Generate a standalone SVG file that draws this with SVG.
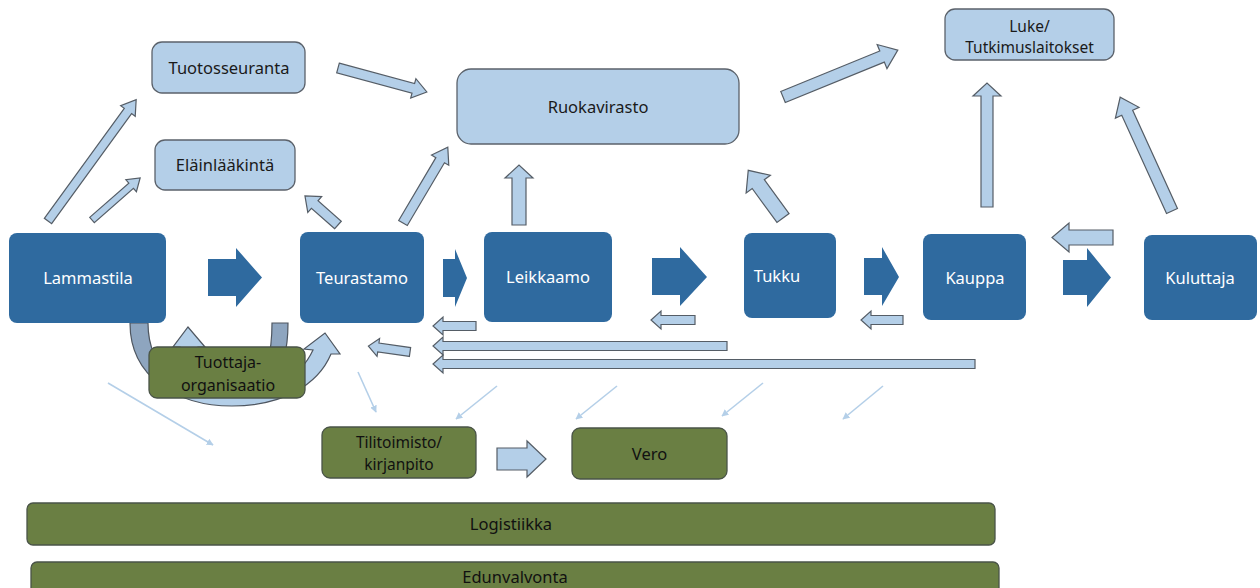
<svg xmlns="http://www.w3.org/2000/svg" width="1260" height="588" viewBox="0 0 1260 588">
<style>
text{font-family:"Noto Sans","DejaVu Sans",sans-serif;font-size:16.5px;text-anchor:middle}
.dk rect{fill:#2f6a9f}
.dk text{fill:#ffffff}
.lt rect{fill:#b4cfe8;stroke:#5b626b;stroke-width:1.3}
.lt text{fill:#1a1a1a}
.gr rect{fill:#6a7f43;stroke:#4a5448;stroke-width:1.3}
.gr text{fill:#111111}
.two{font-size:15.5px}
.ba{fill:#b4cfe8;stroke:#555d66;stroke-width:1.2;stroke-linejoin:miter}
.fa{fill:#2f6a9f}
.th{stroke:#b4cfe8;stroke-width:1.6;fill:none;marker-end:url(#mh)}
</style>
<defs>
<marker id="mh" viewBox="0 0 10 10" refX="9" refY="5" markerWidth="7" markerHeight="7" markerUnits="userSpaceOnUse" orient="auto">
<path d="M0,0 L10,5 L0,10 Z" fill="#b4cfe8"/>
</marker>
<linearGradient id="gA" gradientUnits="userSpaceOnUse" x1="130" y1="0" x2="200" y2="0">
<stop offset="0" stop-color="#8ea5bf"/><stop offset="0.38" stop-color="#8ea5bf"/><stop offset="0.46" stop-color="#b4cfe8"/><stop offset="1" stop-color="#b4cfe8"/>
</linearGradient>
<linearGradient id="gB" gradientUnits="userSpaceOnUse" x1="290" y1="0" x2="230" y2="0">
<stop offset="0" stop-color="#8ea5bf"/><stop offset="0.45" stop-color="#8ea5bf"/><stop offset="0.55" stop-color="#b4cfe8"/><stop offset="1" stop-color="#b4cfe8"/>
</linearGradient>
</defs>

<g id="connectors">
<!-- forward flow arrows -->
<path class="fa" d="M208,259 H236 V248 L262,277.5 L236,307 V296 H208 Z"/>
<path class="fa" d="M443,259 H455 V249 L467,278 L455,307 V297 H443 Z"/>
<path class="fa" d="M652,258 H680 V247 L707,277 L680,306 V295 H652 Z"/>
<path class="fa" d="M864,258 H882 V247 L899,277 L882,306 V295 H864 Z"/>
<path class="fa" d="M1063,260 H1087 V248 L1111,277.5 L1087,307 V295 H1063 Z"/>
<!-- upward / diagonal block arrows -->
<path class="ba" d="M0,-4.5 H136 V-9 L150,0 L136,9 V4.5 H0 Z" transform="translate(48,221) rotate(-54)"/>
<path class="ba" d="M0,-3.5 H52 V-8 L64,0 L52,8 V3.5 H0 Z" transform="translate(92,220) rotate(-41.2)"/>
<path class="ba" d="M0,-5 H31 V-10.5 L44,0 L31,10.5 V5 H0 Z" transform="translate(338,225) rotate(-138.7)"/>
<path class="ba" d="M0,-5 H73 V-10 L88,0 L73,10 V5 H0 Z" transform="translate(403,223) rotate(-59.4)"/>
<path class="ba" d="M0,-5 H78 V-10 L92,0 L78,10 V5 H0 Z" transform="translate(338,68) rotate(15.1)"/>
<path class="ba" d="M512,225 V178 H505 L519,165 L533,178 H526 V225 Z"/>
<path class="ba" d="M0,-7.5 H42 V-15 L59,0 L42,15 V7.5 H0 Z" transform="translate(783,218) rotate(-126.1)"/>
<path class="ba" d="M0,-6 H107 V-13 L124,0 L107,13 V6 H0 Z" transform="translate(783,97) rotate(-22.2)"/>
<path class="ba" d="M981,207 V96 H973 L987,83 L1001,96 H993 V207 Z"/>
<path class="ba" d="M0,-6 H108 V-13 L125,0 L108,13 V6 H0 Z" transform="translate(1172,211) rotate(-114.5)"/>
<path class="ba" d="M1113,230 H1069 V223 L1052,237.5 L1069,252 V245 H1113 Z"/>
<!-- backward arrows -->
<path class="ba" d="M476,321.5 H443 V317 L433,326 L443,335 V330.5 H476 Z"/>
<path class="ba" d="M695,315.5 H661 V311 L651,320 L661,329 V324.5 H695 Z"/>
<path class="ba" d="M903,315.5 H871 V311 L861,320 L871,329 V324.5 H903 Z"/>
<path class="ba" d="M727,341.5 H443 V337 L433,346 L443,355 V350.5 H727 Z"/>
<path class="ba" d="M975,359.5 H443 V355 L433,364 L443,373 V368.5 H975 Z"/>
<path class="ba" d="M0,-4.5 H32 V-9 L42,0 L32,9 V4.5 H0 Z" transform="translate(410,352) rotate(188.1)"/>
<!-- Tilitoimisto to Vero -->
<path class="ba" d="M497,448 H527 V441 L546,459 L527,477 V470 H497 Z"/>
<!-- curved arrows around Tuottaja-organisaatio -->
<path fill="url(#gB)" stroke="#4e5660" stroke-width="1.2" d="M272,323 L288,323 C288,378 265,402 234,402 C200,402 180,378 180,347 L173,347 L188,327 L205,347 L198,347 C198,372 214,391 234,391 C258,391 272,370 272,323 Z"/>
<path fill="url(#gA)" stroke="#4e5660" stroke-width="1.2" d="M148,323 L130,323 C130,378 178,406 232,406 C282,406 318,385 331,354 L340,354 L325,333 L304,349 L313,350 C300,378 270,395 232,395 C185,395 148,372 148,323 Z"/>
<!-- thin arrows to accounting / tax -->
<line class="th" x1="108" y1="383" x2="213" y2="445"/>
<line class="th" x1="358" y1="372" x2="376" y2="412"/>
<line class="th" x1="497" y1="386" x2="456" y2="419"/>
<line class="th" x1="617" y1="386" x2="576" y2="419"/>
<line class="th" x1="763" y1="383" x2="722" y2="416"/>
<line class="th" x1="883" y1="386" x2="843" y2="419"/>
</g>

<g id="tuotosseuranta" class="lt"><rect x="152" y="42" width="153" height="51" rx="10"/><text x="229" y="73.5">Tuotosseuranta</text></g>
<g id="elainlaakinta" class="lt"><rect x="155" y="140" width="140" height="50" rx="10"/><text x="225" y="170.5">Eläinlääkintä</text></g>
<g id="ruokavirasto" class="lt"><rect x="457" y="69" width="282" height="75" rx="14"/><text x="598" y="113">Ruokavirasto</text></g>
<g id="luke" class="lt"><rect x="945" y="9" width="169" height="51" rx="10"/><text class="two" x="1029.5" y="31.5">Luke/</text><text class="two" x="1029.5" y="53">Tutkimuslaitokset</text></g>

<g id="lammastila" class="dk"><rect x="9" y="233" width="157" height="90" rx="8"/><text x="88" y="283.5">Lammastila</text></g>
<g id="teurastamo" class="dk"><rect x="300" y="232" width="124" height="91" rx="8"/><text x="362" y="283.5">Teurastamo</text></g>
<g id="leikkaamo" class="dk"><rect x="484" y="232" width="128" height="90" rx="8"/><text x="548" y="282.5">Leikkaamo</text></g>
<g id="tukku" class="dk"><rect x="744" y="233" width="92" height="85" rx="8"/><text x="777" y="281.5">Tukku</text></g>
<g id="kauppa" class="dk"><rect x="923" y="234" width="103" height="86" rx="8"/><text x="975" y="283.5">Kauppa</text></g>
<g id="kuluttaja" class="dk"><rect x="1144" y="235" width="113" height="85" rx="8"/><text x="1200" y="283.5">Kuluttaja</text></g>

<g id="tuottajaorganisaatio" class="gr"><rect x="149" y="347" width="156" height="51" rx="8"/><text x="228" y="368" style="font-size:16px">Tuottaja-</text><text x="228" y="390.5" style="font-size:16px">organisaatio</text></g>
<g id="tilitoimisto" class="gr"><rect x="322" y="427" width="154" height="51" rx="8"/><text class="two" x="399" y="448">Tilitoimisto/</text><text class="two" x="399" y="469.5">kirjanpito</text></g>
<g id="vero" class="gr"><rect x="572" y="428" width="155" height="51" rx="8"/><text x="649.5" y="459.5">Vero</text></g>
<g id="logistiikka" class="gr"><rect x="27" y="503" width="968" height="42" rx="6"/><text x="511" y="530">Logistiikka</text></g>
<g id="edunvalvonta" class="gr"><rect x="31" y="562" width="968" height="40" rx="6"/><text x="515" y="582.5">Edunvalvonta</text></g>
</svg>
